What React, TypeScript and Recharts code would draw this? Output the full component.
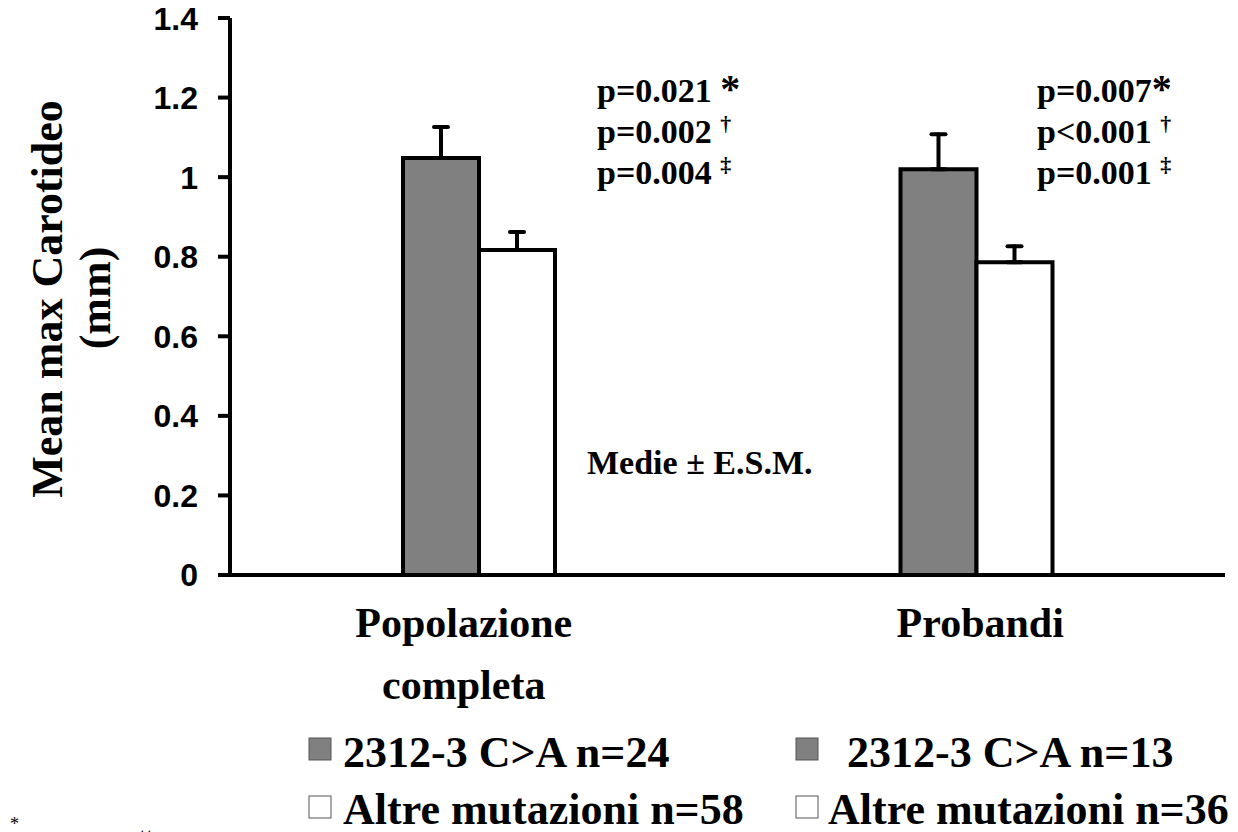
import { BarChart, Bar, XAxis, YAxis, ErrorBar, Customized } from 'recharts'

const categories = ['Popolazione completa', 'Probandi']
const mutValues = [1.048, 1.02]
const mutSem = [0.078, 0.088]
const altreValues = [0.817, 0.786]
const altreSem = [0.045, 0.04]
const yTicks = [0, 0.2, 0.4, 0.6, 0.8, 1, 1.2, 1.4]

const pLeft = ['p=0.021 ', 'p=0.002 ', 'p=0.004 ']
const pRight = ['p=0.007', 'p<0.001 ', 'p=0.001 ']
const pMarks = ['*', '†', '‡']
const legendRow1 = ['2312-3 C>A n=24', '2312-3 C>A n=13']
const legendRow2 = ['Altre mutazioni n=58', 'Altre mutazioni n=36']

const data = categories.map((name, i) => ({
  name,
  mut: mutValues[i],
  mutErr: [0, mutSem[i]],
  altre: altreValues[i],
  altreErr: [0, altreSem[i]],
}))

const SERIF = '"Liberation Serif", "Times New Roman", serif'
const SANS = '"Liberation Sans", Arial, sans-serif'
const GRAY = '#808080'

const CategoryTick = (props: any) => {
  const { x, y, payload, index } = props
  const lines = String(payload.value).split(' ')
  const dx = index === 0 ? -15 : 4
  return (
    <g>
      {lines.map((l, i) => (
        <text
          key={l}
          x={x + dx}
          y={y + 54 + i * 62}
          textAnchor="middle"
          fontFamily={SERIF}
          fontWeight="bold"
          fontSize={42}
          fill="#000"
        >
          {l}
        </text>
      ))}
    </g>
  )
}

const YLabel = () => (
  <g fontFamily={SERIF} fontWeight="bold" fontSize={44} fill="#000">
    <text transform="translate(62, 299) rotate(-90)" textAnchor="middle">
      Mean max Carotideo
    </text>
    <text transform="translate(110, 298) rotate(-90)" textAnchor="middle">
      (mm)
    </text>
  </g>
)

const PBlock = ({ x, lines }: { x: number; lines: string[] }) => (
  <g fontFamily={SERIF} fontWeight="bold" fill="#000">
    {lines.map((l, i) => (
      <text key={i} x={x} y={102 + i * 41} fontSize={34}>
        {l}
        <tspan fontSize={i === 0 ? 40 : 22} dy={i === 0 ? 0 : -12}>
          {pMarks[i]}
        </tspan>
      </text>
    ))}
  </g>
)

const Annotations = () => (
  <g>
    <YLabel />
    <PBlock x={597} lines={pLeft} />
    <PBlock x={1037} lines={pRight} />
    <text x={587} y={474} fontFamily={SERIF} fontWeight="bold" fontSize={34} fill="#000">
      Medie ± E.S.M.
    </text>
    <g fontFamily={SERIF} fontWeight="bold" fontSize={44} fill="#000">
      <rect x={309} y={738} width={22} height={22} fill={GRAY} stroke="#555" strokeWidth={1} />
      <text x={343} y={767}>{legendRow1[0]}</text>
      <rect x={796} y={738} width={22} height={22} fill={GRAY} stroke="#555" strokeWidth={1} />
      <text x={847} y={767}>{legendRow1[1]}</text>
      <rect x={309} y={796} width={22} height={22} fill="#fff" stroke="#555" strokeWidth={1} />
      <text x={343} y={824}>{legendRow2[0]}</text>
      <rect x={796} y={796} width={22} height={22} fill="#fff" stroke="#555" strokeWidth={1} />
      <text x={828} y={824}>{legendRow2[1]}</text>
    </g>
    <g fontFamily={SERIF} fill="#000">
      <text x={10} y={830} fontSize={18}>*</text>
      <text x={40} y={845} fontSize={26}>non corretto</text>
    </g>
  </g>
)

export default function App() {
  return (
    <div style={{ position: 'absolute', left: 0, top: 0, background: '#fff' }}>
      <BarChart
        width={1238}
        height={832}
        data={data}
        margin={{ top: 18, right: 13, left: 0, bottom: 107 }}
        barGap={0}
        barSize={76}
      >
        <XAxis
          dataKey="name"
          height={150}
          tickLine={false}
          axisLine={{ stroke: '#000', strokeWidth: 4 }}
          tick={<CategoryTick />}
          interval={0}
        />
        <YAxis
          width={230}
          domain={[0, 1.4]}
          ticks={yTicks}
          tickSize={12}
          tickMargin={20}
          axisLine={{ stroke: '#000', strokeWidth: 4 }}
          tickLine={{ stroke: '#000', strokeWidth: 4 }}
          tick={{ fill: '#000', fontFamily: SANS, fontWeight: 'bold', fontSize: 32 }}
        />
        <Bar dataKey="mut" fill={GRAY} stroke="#000" strokeWidth={4} isAnimationActive={false}>
          <ErrorBar
            dataKey="mutErr"
            width={7}
            stroke="#000"
            strokeWidth={4}
            strokeLinecap="round"
            isAnimationActive={false}
          />
        </Bar>
        <Bar dataKey="altre" fill="#fff" stroke="#000" strokeWidth={4} isAnimationActive={false}>
          <ErrorBar
            dataKey="altreErr"
            width={7}
            stroke="#000"
            strokeWidth={4}
            strokeLinecap="round"
            isAnimationActive={false}
          />
        </Bar>
        <Customized component={Annotations} />
      </BarChart>
    </div>
  )
}
